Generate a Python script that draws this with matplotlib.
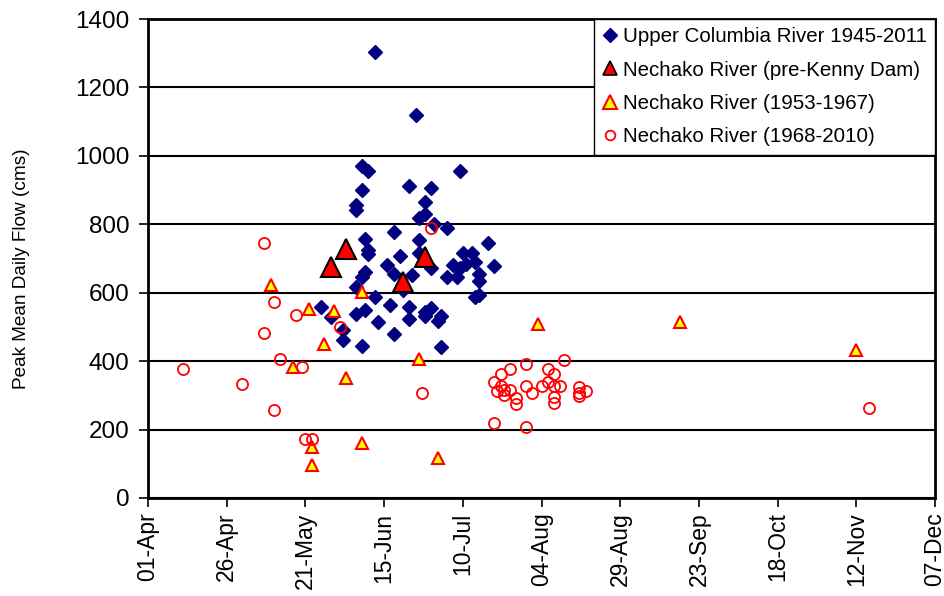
"""Peak mean daily flow timing: Upper Columbia vs Nechako River."""
import matplotlib
matplotlib.use("Agg")
import matplotlib.pyplot as plt

plt.rcParams["font.family"] = ["Liberation Sans", "DejaVu Sans"]

# x values are days after 01-Apr, y values are peak mean daily flow (cms)
columbia_day = [72, 85, 68, 70, 99, 68, 83, 90, 66, 66, 88, 88, 86, 91, 95, 78,
                69, 86, 108, 70, 70, 80, 86, 100, 103, 104, 110, 97, 99, 101, 95,
                98, 105, 105, 76, 78, 84, 90, 69, 68, 66, 81, 72, 104, 105, 55,
                58, 66, 69, 77, 83, 88, 90, 88, 93, 92, 73, 83, 78, 62, 62, 68, 93]
columbia_flow = [1304, 1118, 969, 955, 956, 901, 913, 906, 855, 841, 865, 831,
                 817, 802, 789, 777, 756, 755, 744, 724, 714, 707, 716, 716, 716,
                 690, 677, 680, 671, 685, 646, 646, 656, 634, 680, 656, 653, 671,
                 661, 646, 617, 607, 588, 588, 593, 559, 528, 539, 549, 564, 559,
                 544, 554, 531, 531, 518, 515, 522, 478, 490, 461, 444, 440]

prekenny_day = [58, 63, 81, 88]
prekenny_flow = [675, 729, 632, 703]

nech_5367_day = [39, 51, 59, 68, 56, 46, 63, 86, 52, 52, 68, 92, 124, 169, 225]
nech_5367_flow = [622, 552, 547, 601, 449, 384, 352, 405, 148, 96, 161, 118,
                  508, 513, 432]

nech_6810_day = [11, 30, 40, 37, 40, 47, 42, 49, 50, 52, 87, 61, 37, 90,
                 110, 112, 115, 120, 132, 127, 129, 112, 111, 113, 115, 113,
                 117, 117, 120, 122, 125, 127, 129, 131, 129, 129, 137, 137,
                 139, 137, 110, 120, 229]
nech_6810_flow = [377, 333, 257, 481, 573, 534, 405, 384, 171, 171, 306, 501,
                  745, 789, 340, 361, 376, 393, 403, 377, 361, 328, 313, 315,
                  317, 301, 291, 274, 328, 306, 327, 340, 328, 328, 296, 278,
                  323, 306, 312, 299, 220, 208, 264]

tick_days = list(range(0, 251, 25))
tick_labels = ["01-Apr", "26-Apr", "21-May", "15-Jun", "10-Jul", "04-Aug",
               "29-Aug", "23-Sep", "18-Oct", "12-Nov", "07-Dec"]
y_ticks = list(range(0, 1401, 200))


def main():
    fig = plt.figure(figsize=(9.44, 5.96), dpi=100)
    ax = fig.add_axes([148 / 944, 98 / 596, 787 / 944, 479 / 596])

    ax.plot(columbia_day, columbia_flow, linestyle="none", marker="D",
            markersize=7, color="#000080", label="Upper Columbia River 1945-2011",
            zorder=3)
    ax.plot(prekenny_day, prekenny_flow, linestyle="none", marker="^",
            markersize=14, markerfacecolor="#ff0000", markeredgecolor="black",
            markeredgewidth=1.5, label="Nechako River (pre-Kenny Dam)", zorder=4)
    ax.plot(nech_5367_day, nech_5367_flow, linestyle="none", marker="^",
            markersize=9, markerfacecolor="#ffff00", markeredgecolor="#ff0000",
            markeredgewidth=1.5, label="Nechako River (1953-1967)", zorder=5)
    ax.plot(nech_6810_day, nech_6810_flow, linestyle="none", marker="o",
            markersize=8, markerfacecolor="none", markeredgecolor="#ff0000",
            markeredgewidth=1.3, label="Nechako River (1968-2010)", zorder=6)

    ax.set_xlim(0, 250)
    ax.set_ylim(0, 1400)
    ax.set_xticks(tick_days)
    ax.set_xticklabels(tick_labels, rotation=90, fontsize=16.5)
    ax.set_yticks(y_ticks)
    ax.set_yticklabels([str(v) for v in y_ticks], fontsize=17.5)
    ax.tick_params(axis="both", direction="out", length=6.5, width=1.2, color="black")
    ax.tick_params(axis="y", pad=7)
    ax.tick_params(axis="x", pad=4)
    ax.set_ylabel("Peak Mean Daily Flow (cms)", fontsize=13.7)
    ax.yaxis.set_label_coords(-0.150, 0.478)

    ax.grid(axis="y", color="black", linewidth=1.5)
    ax.set_axisbelow(True)
    for spine in ax.spines.values():
        spine.set_color("black")
        spine.set_linewidth(2)

    leg = ax.legend(loc="upper right", fontsize=14.8, frameon=True, fancybox=False,
                    borderaxespad=0, handlelength=0.7, handletextpad=0.28,
                    borderpad=0.4, labelspacing=0.7)
    leg.get_frame().set_edgecolor("black")
    leg.get_frame().set_linewidth(1.0)
    leg.get_frame().set_alpha(1)
    # legend symbols are drawn at their own sizes
    for handle, size in zip(leg.legend_handles, [7, 10, 10, 7]):
        handle.set_markersize(size)
    leg.legend_handles[1].set_markeredgewidth(1.2)

    plt.savefig("out.png", dpi=100)
    plt.close()


if __name__ == "__main__":
    main()
